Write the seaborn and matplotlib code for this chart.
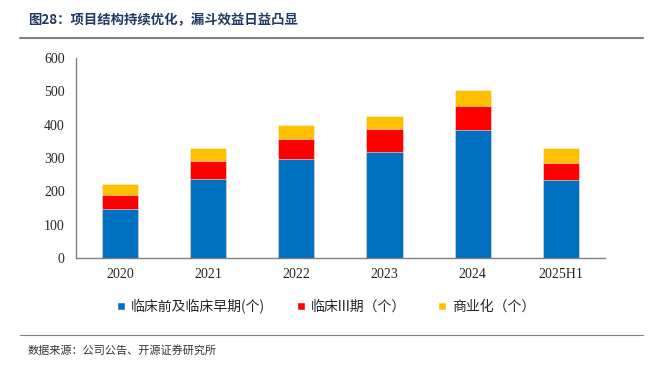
import matplotlib
matplotlib.use("Agg")
import matplotlib.pyplot as plt
import numpy as np
import pandas as pd
import seaborn as sns
from matplotlib.patches import Patch

years = ["2020", "2021", "2022", "2023", "2024", "2025H1"]
early = [146, 236, 297, 317, 383, 233]      # 临床前及临床早期
phase3 = [43, 54, 61, 69, 73, 52]           # 临床III期
commercial = [33, 39, 41, 40, 48, 44]       # 商业化

labels = ["临床前及临床早期(个)", "临床III期（个）", "商业化（个）"]
colors = ["#0070C0", "#FF0000", "#FFC000"]

sns.set_style("white")
plt.rcParams["font.family"] = ["Liberation Serif", "Noto Sans CJK SC"]
cjk = ["Noto Sans CJK SC", "DejaVu Sans"]

df = pd.DataFrame({"year": years, "early": early, "phase3": phase3, "commercial": commercial})
df["lvl1"] = df["early"]
df["lvl2"] = df["early"] + df["phase3"]
df["lvl3"] = df["lvl2"] + df["commercial"]

fig = plt.figure(figsize=(6.49, 3.66), dpi=100)
ax = fig.add_axes([0.117, 0.295, 0.815, 0.5465])

# stacked bars drawn as cumulative layers, top layer first
for col, c in zip(["lvl3", "lvl2", "lvl1"], colors[::-1]):
    sns.barplot(data=df, x="year", y=col, color=c, width=0.41, ax=ax,
                edgecolor="#f2f2f2", linewidth=0.4, saturation=1)

ax.set_ylim(0, 600)
ax.set_yticks(np.arange(0, 601, 100))
ax.set_xlim(-0.5, len(years) - 0.5)
ax.set_xlabel("")
ax.set_ylabel("")
sns.despine(ax=ax)
for s in ["left", "bottom"]:
    ax.spines[s].set_color("#808080")
    ax.spines[s].set_linewidth(1.0)

ax.tick_params(axis="y", direction="in", length=3, color="#808080", labelsize=10, pad=8)
ax.tick_params(axis="x", which="major", length=0, labelsize=10, pad=7)
ax.set_xticks(np.arange(0.5, len(years) - 1, 1), minor=True)
ax.tick_params(axis="x", which="minor", direction="in", length=3, color="#808080")

handles = [Patch(facecolor=c, label=l) for c, l in zip(colors, labels)]
fig.legend(handles=handles, loc="center", bbox_to_anchor=(0.502, 0.163), ncol=3,
           frameon=False, handlelength=0.6, handleheight=0.6, handletextpad=0.4,
           columnspacing=2.3, prop={"family": cjk, "size": 10})

# title and source
fig.text(0.043, 0.945, "图28：项目结构持续优化，漏斗效益日益凸显", family=cjk,
         fontsize=9.6, fontweight="bold", color="#1F3864", va="center")
fig.add_artist(plt.Line2D([0.031, 0.991], [0.896, 0.896], color="#808080", lw=1.5))
fig.add_artist(plt.Line2D([0.031, 0.991], [0.085, 0.085], color="#808080", lw=0.8))
fig.text(0.043, 0.043, "数据来源：公司公告、开源证券研究所", family=cjk,
         fontsize=8, color="#333333", va="center")

fig.savefig("out.png", dpi=100)
